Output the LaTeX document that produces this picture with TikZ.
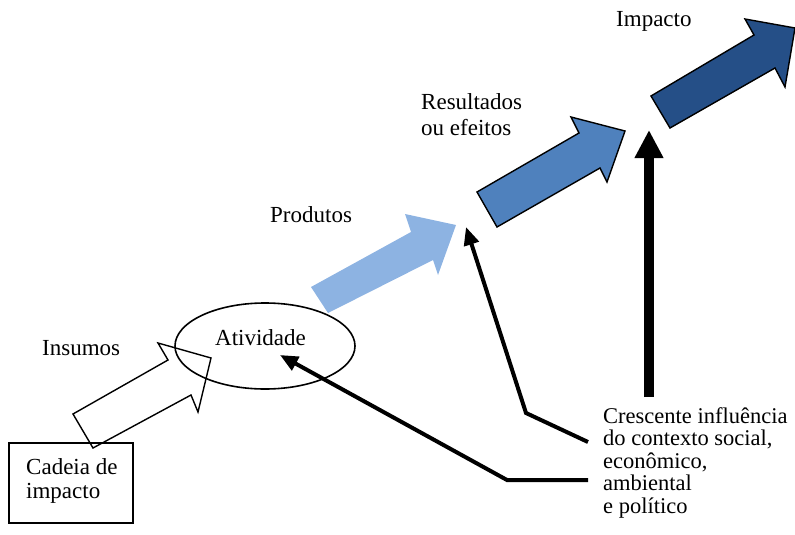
\documentclass[tikz,border=0pt]{standalone}
\usepackage{fontspec}
\setmainfont{Liberation Serif}
\usetikzlibrary{arrows.meta,shapes.geometric}
\definecolor{lightblue}{HTML}{8DB3E2}
\definecolor{midblue}{HTML}{4F81BD}
\definecolor{darkblue}{HTML}{254F87}
\tikzset{
  lbl/.style={inner sep=0pt, anchor=base west, align=left,
    font=\fontsize{23}{24}\selectfont},
  blockarrow/.style={draw=black, line width=1.4pt, line join=miter},
  influence/.style={draw=black, line width=4pt, line join=miter,
    -{Triangle[length=18pt,width=15pt]}},
}
\begin{document}
\begin{tikzpicture}[x=1pt,y=-1pt]
\useasboundingbox (0,0) rectangle (795,535);

% Produtos: light blue block arrow (behind the ellipse)
\fill[lightblue] (311,287) -- (411,232) -- (405,214) -- (456,225) -- (438,275)
  -- (433,260) -- (328,313) -- cycle;

% Activity ellipse
\node[draw, line width=1.6pt, ellipse, minimum width=180pt, minimum height=86pt,
  inner sep=0pt] (ativ) at (265,346) {};
\node[lbl] (ativtxt) at (215,345) {Atividade};

% Insumos: outlined block arrow
\draw[blockarrow] (73,414) -- (168,360) -- (158,343) -- (211,358) -- (198,412)
  -- (191,395) -- (93,448) -- cycle;

% Resultados: mid blue block arrow
\filldraw[blockarrow, fill=midblue] (477,192) -- (579,133) -- (571,117) -- (625,131)
  -- (607,182) -- (600,168) -- (497,227) -- cycle;

% Impacto: dark blue block arrow
\filldraw[blockarrow, fill=darkblue] (651,96) -- (754,35) -- (745,19) -- (795,28)
  -- (785,87) -- (775,68) -- (670,128) -- cycle;

% Impact chain box (multi-line labels are placed by their last baseline)
\node[draw, line width=1.4pt, minimum width=124pt, minimum height=80pt,
  inner sep=0pt] (cadeia) at (71,483) {};
\node[lbl, font=\fontsize{23}{24}\selectfont] (cadeiatxt) at (26,498) {Cadeia de\\impacto};

% Stage labels
\node[lbl] (insumos) at (42,355) {Insumos};
\node[lbl] (produtos) at (270,222) {Produtos};
\node[lbl, font=\fontsize{23}{26}\selectfont] (result) at (421,135) {Resultados\\ou efeitos};
\node[lbl] (impacto) at (616,27) {Impacto};

% Context influence text
\node[lbl, font=\fontsize{22.5}{22.5}\selectfont] (infl) at (603,513)
  {Crescente influência\\do contexto social,\\econômico,\\ambiental\\e político};

% Connector end points
\coordinate (s1) at (588,480);
\coordinate (k1) at (507,480);
\coordinate (t1) at (280,355);
\coordinate (s2) at (588,442);
\coordinate (k2) at (526,413);
\coordinate (t2) at (466,227);
\coordinate (s3) at (649,397);
\coordinate (t3) at (649,130);

% Influence arrows
\draw[influence] (s1) -- (k1) -- (t1);
\draw[influence] (s2) -- (k2) -- (t2);
\draw[line width=10pt, -{Triangle[length=28pt,width=27pt]}] (s3) -- (t3);
\end{tikzpicture}
\end{document}
